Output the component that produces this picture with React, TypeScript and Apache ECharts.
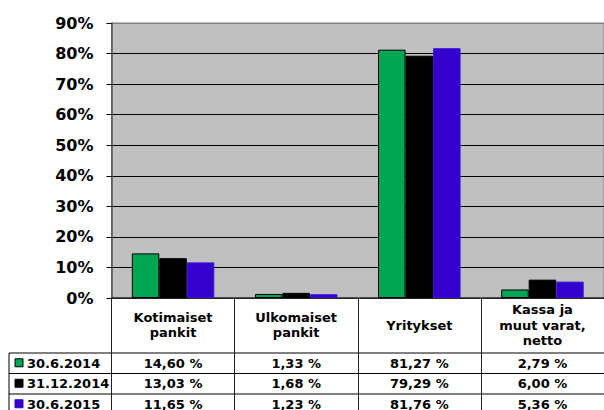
import React, { useEffect, useRef } from 'react';
import * as echarts from 'echarts';

const categories = ['Kotimaiset\npankit', 'Ulkomaiset\npankit', 'Yritykset', 'Kassa ja\nmuut varat,\nnetto'];
const seriesNames = ['30.6.2014', '31.12.2014', '30.6.2015'];
const values2014H1 = [14.6, 1.33, 81.27, 2.79];
const values2014H2 = [13.03, 1.68, 79.29, 6.0];
const values2015H1 = [11.65, 1.23, 81.76, 5.36];
const seriesValues = [values2014H1, values2014H2, values2015H1];
const seriesColors = ['#00a651', '#000000', '#3300cc'];
const seriesBorders = ['#000000', '#000000', '#3a14d6'];
const yMax = 90;
const yStep = 10;

const FONT = 'DejaVu Sans';

const fmt = (v: number) => v.toFixed(2).replace('.', ',') + ' %';

export default function App() {
  const ref = useRef<HTMLDivElement>(null);
  useEffect(() => {
    if (!ref.current) return;
    const chart = echarts.init(ref.current, undefined, { renderer: 'svg' });
    const gridLeft = 111.5;
    const gridTop = 23;
    const gridHeight = 275;
    const gridBottomY = gridTop + gridHeight;
    const splitColors: string[] = [];
    for (let v = 0; v <= yMax; v += yStep) splitColors.push(v === yMax ? '#808080' : '#000000');

    const option: any = {
      animation: false,
      grid: {
        left: gridLeft,
        top: gridTop,
        width: 495.5,
        height: gridHeight,
        show: true,
        backgroundColor: '#c0c0c0',
        borderColor: '#808080',
        borderWidth: 1,
      },
      xAxis: {
        type: 'category',
        data: categories,
        boundaryGap: true,
        axisLine: { show: true, lineStyle: { color: '#303030', width: 1.5 } },
        axisTick: { show: true, length: 115, interval: 0, lineStyle: { color: '#202020', width: 1 } },
        axisLabel: {
          interval: 0,
          margin: 27,
          verticalAlign: 'middle',
          color: '#000',
          fontFamily: FONT,
          fontWeight: 'bold',
          fontSize: 13,
          lineHeight: 15.5,
        },
        splitLine: { show: false },
      },
      yAxis: {
        type: 'value',
        min: 0,
        max: yMax,
        interval: yStep,
        axisLine: { show: true, lineStyle: { color: '#555555', width: 1.5 } },
        axisTick: { show: true, length: 5, lineStyle: { color: '#000' } },
        axisLabel: {
          formatter: '{value}%',
          margin: 18,
          color: '#000',
          fontFamily: FONT,
          fontWeight: 'bold',
          fontSize: 16,
        },
        splitLine: { show: true, lineStyle: { color: splitColors, width: 1 } },
      },
      series: seriesNames.map((name, i) => ({
        name,
        type: 'bar',
        data: seriesValues[i],
        barWidth: 27.5,
        barGap: '0%',
        itemStyle: { color: seriesColors[i], borderColor: seriesBorders[i], borderWidth: 1 },
      })),
    };
    chart.setOption(option);

    const centers = categories.map((c) => chart.convertToPixel({ xAxisIndex: 0 }, c) as number);
    const rowTop = gridBottomY + 55;
    const rowH = 20.5;
    const tableLeft = 9;
    const tableRight = 604;
    const graphics: any[] = [];
    for (let r = 0; r < 4; r++) {
      const y = rowTop + r * rowH;
      graphics.push({
        type: 'line',
        shape: { x1: tableLeft, y1: y, x2: tableRight, y2: y },
        style: { stroke: '#000', lineWidth: 1 },
      });
    }
    graphics.push({
      type: 'line',
      shape: { x1: tableLeft, y1: rowTop, x2: tableLeft, y2: rowTop + 3 * rowH + 5 },
      style: { stroke: '#000', lineWidth: 1 },
    });
    seriesNames.forEach((name, r) => {
      const cy = rowTop + r * rowH + rowH / 2;
      graphics.push({
        type: 'rect',
        shape: { x: 15, y: cy - 4.5, width: 8, height: 8 },
        style: { fill: seriesColors[r], stroke: r === 2 ? seriesColors[r] : '#000', lineWidth: 1 },
      });
      graphics.push({
        type: 'text',
        x: 27,
        y: cy,
        style: {
          text: name,
          fill: '#000',
          fontFamily: FONT,
          fontWeight: 'bold',
          fontSize: 13,
          textAlign: 'left',
          textVerticalAlign: 'middle',
        },
      });
      seriesValues[r].forEach((v, c) => {
        graphics.push({
          type: 'text',
          x: centers[c],
          y: cy,
          style: {
            text: fmt(v),
            fill: '#000',
            fontFamily: FONT,
            fontWeight: 'bold',
            fontSize: 13,
            textAlign: 'center',
            textVerticalAlign: 'middle',
          },
        });
      });
    });
    chart.setOption({ graphic: graphics });

    return () => chart.dispose();
  }, []);
  return (
    <div
      ref={ref}
      style={{ position: 'absolute', left: 0, top: 0, width: 604, height: 410, background: '#fff' }}
    />
  );
}
